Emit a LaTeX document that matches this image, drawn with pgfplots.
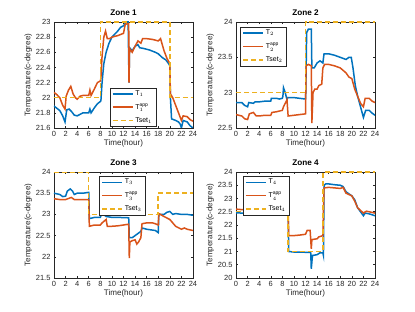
\documentclass[border=0pt]{standalone}
\usepackage{pgfplots}
\pgfplotsset{compat=1.18}
\usepackage{fontspec}
\setmainfont{Liberation Sans}
\definecolor{mblue}{rgb}{0,0.447,0.741}
\definecolor{morange}{rgb}{0.85,0.325,0.098}
\definecolor{myellow}{rgb}{0.929,0.694,0.125}
\definecolor{axgray}{rgb}{0.15,0.15,0.15}
\pgfplotsset{
  zone/.style={
    scale only axis, width=139bp, height=106bp,
    xmin=0, xmax=24, xtick={0,2,...,24},
    tick align=inside, major tick length=2bp,
    axis line style={axgray, line width=0.5bp},
    every tick/.style={axgray, line width=0.5bp},
    tick label style={font=\fontsize{7.5}{8}\selectfont, text=axgray},
    /pgf/number format/assume math mode=true,
    label style={font=\fontsize{8.1}{9}\selectfont, text=axgray},
    xlabel={Time(hour)}, ylabel={Temperature(c-degree)},
    xlabel style={yshift=3.5bp},
    ylabel style={yshift=-3bp},
    title style={font=\bfseries\fontsize{8.2}{9}\selectfont, yshift=-3.5bp},
    legend style={font=\fontsize{7}{7.5}\selectfont, draw=axgray, line width=0.5bp, inner xsep=2pt, inner ysep=1pt, row sep=2.4pt, cells={anchor=west}},
    legend image code/.code={\draw[#1,mark=none] (0bp,0bp) -- (20bp,0bp);},
  },
  tb/.style={mblue, line width=1.5bp, mark=none},
  to/.style={morange, line width=1.5bp, mark=none},
  ts/.style={myellow, line width=1.5bp, dash pattern=on 5bp off 3bp, mark=none},
}
\begin{document}
\begin{tikzpicture}
\path (0,0) rectangle (415bp,312bp);
% Zone 1
\begin{axis}[zone, at={(54bp,184bp)}, anchor=south west, title={Zone 1},
  ymin=21.6, ymax=23, ytick={21.6,21.8,...,23.01},
  yticklabel style={/pgf/number format/fixed, /pgf/number format/precision=1},
  legend style={at={(0.40,0.01)}, anchor=south west}]
\addplot[tb] coordinates {(0,21.89)(0.5,21.86)(1,21.83)(1.5,21.76)(1.9,21.68)(2.2,21.84)(2.6,21.85)(3,21.82)(3.5,21.77)(4,21.76)(4.5,21.78)(5,21.80)(6,21.80)(6.2,21.85)(6.4,21.80)(7,21.87)(7.5,21.92)(8,21.95)(8.1,21.96)(8.3,22.2)(8.6,22.45)(9,22.6)(9.5,22.72)(10,22.8)(10.5,22.84)(11,22.88)(11.5,22.93)(12,22.95)(12.2,22.97)(12.4,23.0)(12.8,23.0)(12.95,22.2)(13.05,22.66)(13.5,22.62)(14,22.68)(14.5,22.70)(14.8,22.66)(15.5,22.65)(16.5,22.63)(17.5,22.60)(18,22.58)(18.7,22.53)(19.3,22.5)(19.8,22.45)(20,22.42)(20.1,22.0)(20.3,21.72)(21,21.70)(21.5,21.68)(21.8,21.65)(22,21.60)(22.3,21.70)(23,21.68)(23.5,21.63)(24,21.60)};
\addlegendentry{T$_1$}
\addplot[to] coordinates {(0,22.07)(0.5,22.04)(1,22.0)(1.5,21.9)(1.9,21.85)(2.1,22.02)(2.5,22.1)(2.9,22.15)(3.3,22.05)(3.7,22.0)(4,21.98)(4.5,22.02)(5,22.03)(6,22.03)(6.2,22.1)(6.4,22.03)(7,22.12)(7.5,22.2)(8,22.22)(8.1,22.26)(8.3,22.55)(8.6,22.8)(8.9,22.88)(9.2,22.78)(9.6,22.78)(10,22.80)(11,22.82)(12,22.85)(12.3,22.97)(12.9,22.98)(12.95,22.2)(13.05,22.65)(13.5,22.6)(14,22.68)(14.5,22.75)(15,22.72)(15.3,22.78)(16,22.78)(17,22.77)(18,22.75)(18.4,22.78)(18.7,22.70)(19,22.62)(19.5,22.52)(20,22.45)(20.1,22.05)(20.5,22.0)(21,21.9)(21.5,21.8)(22,21.70)(22.3,21.76)(23,21.75)(23.5,21.71)(24,21.69)};
\addlegendentry{T$_1^{\mathrm{app}}$}
\addplot[ts] coordinates {(0,22)(8,22)(8,23)(20,23)(20,22)(24,22)};
\addlegendentry{Tset$_1$}
\end{axis}
% Zone 2
\begin{axis}[zone, at={(236bp,184bp)}, anchor=south west, title={Zone 2},
  ymin=22.5, ymax=24, ytick={22.5,23,23.5,24},
  legend style={at={(0.03,0.955)}, anchor=north west}]
\addplot[tb] coordinates {(0,22.86)(1,22.86)(1.5,22.82)(2,22.80)(2.2,22.86)(3,22.85)(3.3,22.87)(4,22.87)(5,22.88)(6,22.88)(6.1,22.92)(7,22.92)(7.5,22.91)(8,22.92)(8.1,22.95)(8.2,23.07)(8.5,23.0)(8.8,22.9)(8.9,22.93)(10,22.93)(11,22.92)(12,22.91)(12.05,23.0)(12.2,23.85)(12.5,23.9)(13,23.9)(13.1,23.35)(13.5,23.35)(14,23.42)(14.5,23.45)(15,23.42)(15.2,23.55)(16,23.55)(17,23.53)(18,23.5)(19,23.47)(19.5,23.5)(19.9,23.5)(20.2,23.35)(20.6,23.1)(21,22.95)(21.5,22.8)(22,22.65)(22.4,22.75)(23,22.75)(23.5,22.71)(24,22.68)};
\addlegendentry{T$_2$}
\addplot[to] coordinates {(0,22.69)(1,22.67)(1.5,22.63)(2,22.62)(2.3,22.70)(3,22.72)(3.5,22.67)(4,22.67)(5,22.68)(6,22.68)(6.2,22.72)(7,22.73)(8,22.75)(8.2,22.80)(8.8,22.90)(9,22.67)(10,22.68)(11,22.69)(12,22.70)(12.1,23.38)(12.5,23.40)(13,23.38)(13.1,22.57)(13.3,23.0)(13.6,23.05)(14,23.05)(14.3,23.10)(14.8,23.12)(15,23.35)(15.3,23.40)(16,23.40)(17,23.38)(18,23.35)(19,23.28)(19.5,23.22)(20,23.20)(20.5,23.05)(21,22.95)(21.5,22.85)(22,22.80)(22.3,22.92)(23,22.92)(23.5,22.88)(24,22.86)};
\addlegendentry{T$_2^{\mathrm{app}}$}
\addplot[ts] coordinates {(0,23)(12,23)(12,24)(24,24)};
\addlegendentry{Tset$_2$}
\end{axis}
% Zone 3
\begin{axis}[zone, at={(54bp,34bp)}, anchor=south west, title={Zone 3},
  ymin=21.5, ymax=24, ytick={21.5,22,...,24},
  legend style={at={(0.324,0.963)}, anchor=north west}]
\addplot[tb] coordinates {(0,23.50)(1,23.47)(1.5,23.42)(2,23.43)(2.3,23.55)(2.8,23.60)(3.2,23.55)(3.5,23.47)(4,23.50)(5,23.50)(6,23.52)(6.1,22.90)(7,22.93)(8,22.93)(8.3,23.05)(8.6,23.00)(9,22.95)(10,22.93)(11,22.93)(12.9,22.92)(13,22.45)(13.5,22.45)(14,22.50)(14.5,22.55)(15,22.60)(15.2,22.68)(16,22.65)(17,22.63)(17.5,22.62)(18,22.57)(18.1,23.00)(19,23.00)(19.5,23.05)(20,23.07)(20.5,23.00)(21,23.02)(22,23.00)(23,23.00)(24,22.98)};
\addlegendentry{T$_3$}
\addplot[to] coordinates {(0,23.37)(1,23.35)(2,23.35)(3,23.40)(3.5,23.35)(6,23.35)(6.1,22.72)(7,22.75)(8,22.75)(8.3,22.80)(9,22.88)(9.2,22.72)(10,22.72)(11,22.73)(12,22.75)(12.9,22.77)(13,21.97)(13.1,22.35)(13.5,22.38)(14,22.40)(14.3,22.30)(14.6,22.35)(15,22.45)(15.2,22.78)(16,22.80)(17,22.80)(17.5,22.78)(18,22.75)(18.1,23.02)(19,22.95)(20,22.88)(21,22.72)(22,22.65)(22.5,22.68)(23,22.65)(24,22.62)};
\addlegendentry{T$_3^{\mathrm{app}}$}
\addplot[ts] coordinates {(0,24)(6,24)(6,23)(18,23)(18,23.5)(24,23.5)};
\addlegendentry{Tset$_3$}
\end{axis}
% Zone 4
\begin{axis}[zone, at={(236bp,34bp)}, anchor=south west, title={Zone 4},
  ymin=20, ymax=24, ytick={20,20.5,...,24},
  legend style={at={(0.05,0.963)}, anchor=north west}]
\addplot[tb] coordinates {(0,22.46)(1,22.45)(2,22.45)(3,22.46)(4,22.45)(5,22.45)(6,22.46)(7,22.45)(8,22.45)(9,22.45)(9.1,21.00)(10,20.98)(11,20.98)(12,20.97)(12.9,20.97)(13,20.35)(13.2,20.85)(14,20.88)(14.5,20.95)(15,20.95)(15.1,20.85)(15.2,23.50)(15.5,23.55)(16,23.55)(17,23.52)(18,23.50)(18.5,23.45)(19,23.25)(20,23.10)(20.5,22.95)(21,22.65)(21.5,22.50)(22,22.35)(22.3,22.45)(23,22.42)(24,22.35)};
\addlegendentry{T$_4$}
\addplot[to] coordinates {(0,22.60)(1,22.58)(2,22.57)(3,22.60)(4,22.58)(5,22.58)(6,22.60)(6.2,22.55)(7,22.55)(8,22.57)(9,22.60)(9.1,21.60)(10,21.60)(11,21.62)(12,21.65)(12.3,21.80)(12.8,21.80)(13,21.10)(13.1,21.45)(14,21.48)(14.3,21.55)(15,21.60)(15.2,23.40)(16,23.42)(17,23.40)(18,23.38)(18.5,23.42)(19,23.20)(20,23.10)(20.5,22.90)(21,22.65)(21.5,22.55)(22,22.45)(22.5,22.52)(23,22.50)(24,22.45)};
\addlegendentry{T$_4^{\mathrm{app}}$}
\addplot[ts] coordinates {(0,22.5)(9,22.5)(9,21)(15,21)(15,24)(24,24)};
\addlegendentry{Tset$_4$}
\end{axis}
\end{tikzpicture}
\end{document}
